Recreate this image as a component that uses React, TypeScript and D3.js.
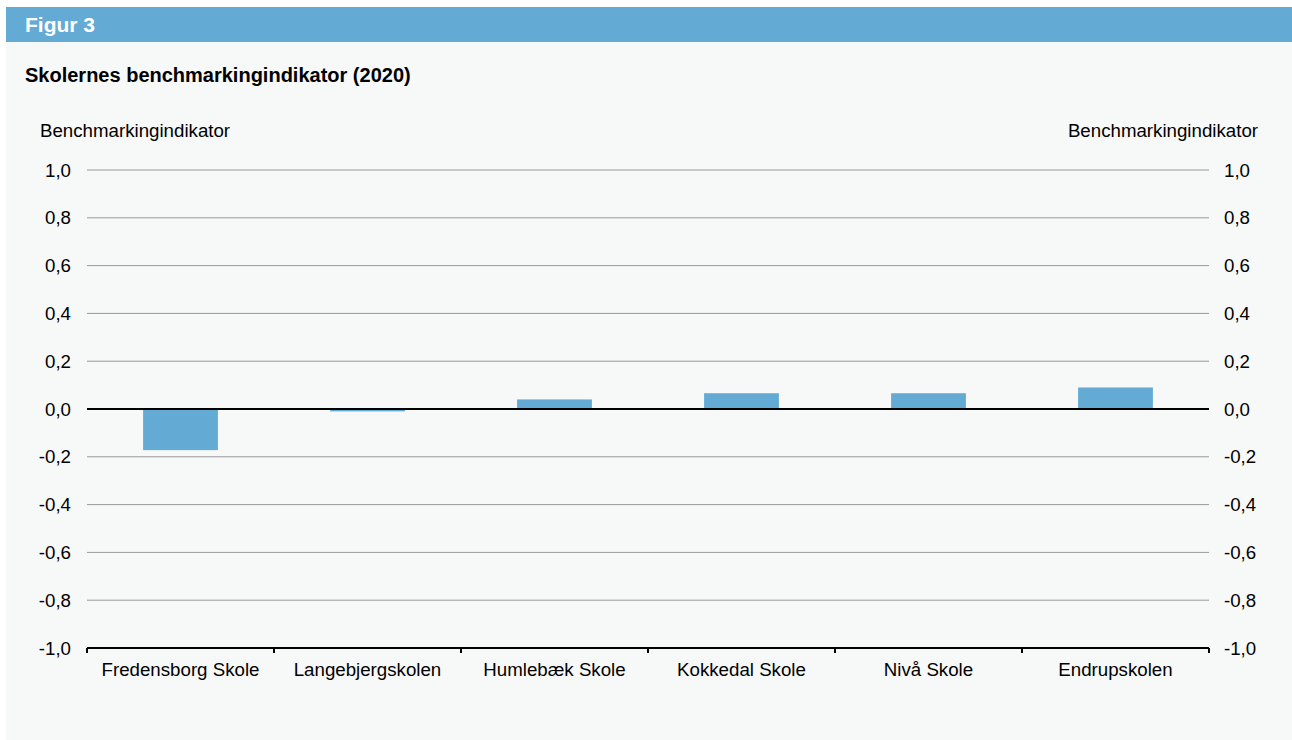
import React from "react";
import * as d3 from "d3";

const categories = ["Fredensborg Skole", "Langebjergskolen", "Humlebæk Skole", "Kokkedal Skole", "Nivå Skole", "Endrupskolen"];
const values = [-0.172, -0.01, 0.04, 0.066, 0.066, 0.09];
const yTicks = [1.0, 0.8, 0.6, 0.4, 0.2, 0.0, -0.2, -0.4, -0.6, -0.8, -1.0];

const W = 1292, H = 740;
const left = 87, right = 1209, top = 170, bottom = 648;
const font = "Liberation Sans, Arial, sans-serif";
const blue = "#63aad5";
const fs = 18.7;

export default function App() {
  const x = d3.scaleBand<string>().domain(categories).range([left, right]).paddingInner(0.6).paddingOuter(0.3);
  const xb = d3.scaleBand<string>().domain(categories).range([left, right]);
  const y = d3.scaleLinear().domain([-1, 1]).range([bottom, top]);
  const fmt = (v: number) => v.toFixed(1).replace(".", ",");
  return (
    <svg width={W} height={H} style={{ position: "absolute", left: 0, top: 0, display: "block" }}>
      <rect x={6} y={7} width={1286} height={733} fill="#f7f8f8" />
      <rect x={6} y={7} width={1286} height={35} fill={blue} />
      <text x={25} y={32} fill="#fff" fontFamily={font} fontWeight="bold" fontSize={21}>Figur 3</text>
      <text x={25} y={82} fill="#000" fontFamily={font} fontWeight="bold" fontSize={20}>Skolernes benchmarkingindikator (2020)</text>
      <text x={40} y={137} fill="#000" fontFamily={font} fontSize={fs}>Benchmarkingindikator</text>
      <text x={1258} y={137} fill="#000" fontFamily={font} fontSize={fs} textAnchor="end">Benchmarkingindikator</text>
      {yTicks.map((t) => (
        <g key={t}>
          {t !== 0 && t !== -1 && <line x1={left} x2={right} y1={y(t)} y2={y(t)} stroke="#999" strokeWidth={1} />}
          <text x={71} y={y(t) + 6.5} textAnchor="end" fontFamily={font} fontSize={fs} fill="#000">{fmt(t)}</text>
          <text x={1224} y={y(t) + 6.5} textAnchor="start" fontFamily={font} fontSize={fs} fill="#000">{fmt(t)}</text>
        </g>
      ))}
      {categories.map((c, i) => {
        const v = values[i];
        return <rect key={c} x={x(c)} width={x.bandwidth()} y={y(Math.max(0, v))} height={Math.abs(y(v) - y(0))} fill={blue} />;
      })}
      <line x1={left} x2={right} y1={y(0)} y2={y(0)} stroke="#000" strokeWidth={2} />
      <line x1={left} x2={right} y1={bottom} y2={bottom} stroke="#000" strokeWidth={2} />
      {[...categories.map((c) => xb(c) as number), right].map((px, i) => (
        <line key={i} x1={px} x2={px} y1={bottom} y2={bottom + 5} stroke="#000" strokeWidth={2} />
      ))}
      {categories.map((c) => (
        <text key={c} x={(xb(c) as number) + xb.bandwidth() / 2} y={676} textAnchor="middle" fontFamily={font} fontSize={fs} fill="#000">{c}</text>
      ))}
    </svg>
  );
}
